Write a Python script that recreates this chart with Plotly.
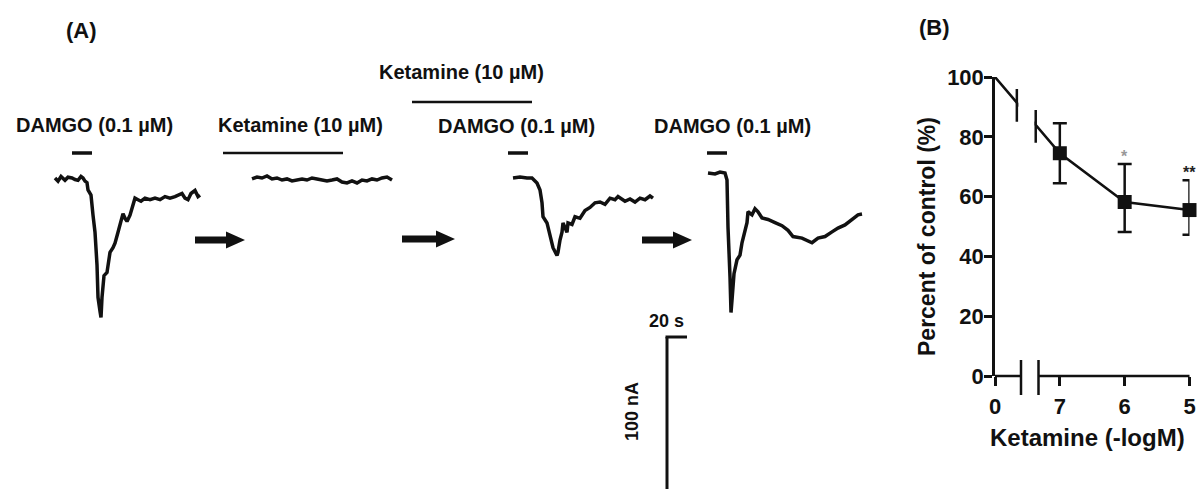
import plotly.graph_objects as go

# ---------------- Panel A data: whole-cell currents (time in s, current in nA, relative to baseline)
t_damgo_ctrl = [0, 3, 6, 10, 13, 17, 20, 23, 26, 28, 30, 32, 33, 36, 38, 40, 42, 43, 45, 46, 47, 49, 52, 55, 58,
                60, 63, 65, 68, 70, 72, 75, 78, 80, 83, 86, 90, 95, 100, 105, 110, 115, 120, 124, 127, 130, 133,
                136, 140, 143, 145]
i_damgo_ctrl = [0, -2, 1, -1.5, 0.5, 0, -1, -1.5, 1, 0, -2, -3, -7.7, -11, -24, -35, -56, -77, -86, -90, -77, -63,
                -61, -48, -45, -42, -35, -30, -23, -26, -28, -24, -16, -13, -14, -15, -13, -14, -13, -14, -12, -13,
                -12, -11, -10, -13, -14, -10, -8, -12, -11]

t_ketamine = [0, 5, 10, 15, 20, 25, 30, 35, 40, 45, 50, 55, 60, 65, 70, 75, 80, 85, 90, 95, 100, 105, 110, 115,
              120, 125, 130, 135, 140]
i_ketamine = [-0.6, 0.6, 0, 1.3, -0.6, 0, -1.3, -0.6, -1.9, -1.3, -0.6, -1.3, 0, -0.6, -1.3, -1.9, -1.3, -0.6,
              -2.6, -3.2, -1.9, -3.2, -1.3, -1.9, -0.6, -1.3, 0, 0.6, -1.3]

t_damgo_ket = [0, 7, 14, 19, 24, 27, 29, 30, 34, 37, 40, 44, 45, 47, 49, 50, 54, 55, 59, 62, 67, 72, 77, 82, 87,
               92, 97, 102, 105, 112, 117, 122, 127, 132, 137, 140]
i_damgo_ket = [0, 0.6, 0, 0, -3.2, -7.7, -16, -25, -29, -38, -45, -50, -48, -40, -35, -29, -35, -29, -30, -25,
               -26, -21, -19, -16, -15.5, -17, -13, -14, -12, -15, -13.5, -15.5, -13, -14, -11.6, -13]

t_damgo_wash = [0, 7, 12, 17, 19, 20, 22, 23, 24, 26, 29, 32, 34, 37, 39, 40, 44, 47, 50, 54, 60, 67, 74, 80, 85,
                94, 104, 110, 117, 124, 130, 137, 144, 150, 154]
i_damgo_wash = [0, -0.6, 0.6, 0, -4.5, -35, -67, -90, -82, -65, -56, -53, -45, -37, -32, -25, -27, -23, -25, -29,
                -30, -32, -34, -37, -41, -42, -45, -42, -41, -38, -35.5, -33.5, -30, -27, -26.5]

# drug application intervals (s, relative to start of each trace)
damgo_app = [(17, 37), (-5, 15), (-1, 19)]
ketamine_app = [(-29, 91), (-101, 19)]

# ---------------- Panel B data
ketamine_neglogM = [8, 7, 6, 5]          # 8 stands for control (labelled "0")
tick_labels = ["0", "7", "6", "5"]
pct_control = [100, 74.5, 58.2, 55.5]
err_plus = [10, 12.7, 10]
err_minus = [10, 10, 8.3]
sig_labels = ["", "*", "**"]
y_ticks = [0, 20, 40, 60, 80, 100]

# ---------------- layout constants
W, H = 1200, 489
PX_PER_S = 1.0
PX_PER_NA = 1.55
FONT = "Liberation Sans, Arial, Helvetica, sans-serif"
BLK = "#111111"

# panel B plot-area pixel geometry
BX0, BX1 = 995, 1189.5
BY0, BY1 = 376, 77   # pixel y of 0 % and 100 %

# trace placement (left x px, baseline y px)
placements = [(55, 178), (252, 178), (513, 178), (708, 173)]
traces_A = [(t_damgo_ctrl, i_damgo_ctrl), (t_ketamine, i_ketamine),
            (t_damgo_ket, i_damgo_ket), (t_damgo_wash, i_damgo_wash)]

fig = go.Figure()

for (x0, yb), (tt, ii) in zip(placements, traces_A):
    fig.add_trace(go.Scatter(
        x=[x0 + t * PX_PER_S for t in tt],
        y=[yb - v * PX_PER_NA for v in ii],
        mode="lines", line=dict(color=BLK, width=3.5),
        xaxis="x", yaxis="y", showlegend=False, hoverinfo="skip"))

shapes = []
annotations = []

# drug application bars
damgo_traces = [0, 2, 3]
for k, (a, b) in zip(damgo_traces, damgo_app):
    x0, _ = placements[k]
    shapes.append(dict(type="line", xref="x", yref="y", x0=x0 + a * PX_PER_S, x1=x0 + b * PX_PER_S,
                       y0=153, y1=153, line=dict(color=BLK, width=3.5)))
ket_rows = [(1, 153), (2, 102)]
for (k, yy), (a, b) in zip(ket_rows, ketamine_app):
    x0, _ = placements[k]
    shapes.append(dict(type="line", xref="x", yref="y", x0=x0 + a * PX_PER_S, x1=x0 + b * PX_PER_S,
                       y0=yy, y1=yy, line=dict(color=BLK, width=2.5)))

# arrows between traces
def arrow(xs, xe, y, head=19, hh=8.5, sh=3.5):
    xh = xe - head
    return dict(type="path", xref="x", yref="y",
                path=f"M{xs},{y-sh} L{xh},{y-sh} L{xh},{y-hh} L{xe},{y} L{xh},{y+hh} L{xh},{y+sh} L{xs},{y+sh} Z",
                fillcolor=BLK, line=dict(color=BLK, width=0))

shapes += [arrow(195, 245, 240), arrow(402, 455, 239), arrow(642, 692, 240)]

# scale bars
sb_x, sb_y = 667, 337
shapes.append(dict(type="line", xref="x", yref="y", x0=sb_x - 1.5, x1=sb_x + 20 * PX_PER_S, y0=sb_y, y1=sb_y,
                   line=dict(color=BLK, width=3)))
shapes.append(dict(type="line", xref="x", yref="y", x0=sb_x, x1=sb_x, y0=sb_y, y1=sb_y + 100 * PX_PER_NA,
                   line=dict(color=BLK, width=3)))

def txt(x, y, s, size=20, **kw):
    d = dict(x=x, y=y, xref="x", yref="y", text=s, showarrow=False,
             font=dict(family=FONT, size=size, color=BLK, weight="bold"),
             xanchor="center", yanchor="middle")
    d.update(kw)
    return d

annotations += [
    txt(81, 30, "(A)", size=22),
    txt(94, 125, "DAMGO (0.1 µM)"),
    txt(300, 125, "Ketamine (10 µM)"),
    txt(461, 72, "Ketamine (10 µM)"),
    txt(516, 126, "DAMGO (0.1 µM)"),
    txt(732, 126, "DAMGO (0.1 µM)"),
    txt(666, 321, "20 s", size=18),
    txt(632, 412, "100 nA", size=18, textangle=-90),
    txt(934, 27, "(B)", size=22),
    # panel B axis titles
    txt(927, 237, "Percent of control (%)", size=23, textangle=-90),
    txt(1087, 437, "Ketamine (-logM)", size=24),
]

# ---------------- Panel B
fig.add_trace(go.Scatter(
    x=ketamine_neglogM, y=pct_control, mode="lines",
    line=dict(color=BLK, width=2.5), xaxis="x2", yaxis="y2",
    showlegend=False, hoverinfo="skip", cliponaxis=False))
fig.add_trace(go.Scatter(
    x=ketamine_neglogM[1:], y=pct_control[1:], mode="markers",
    marker=dict(symbol="square", size=14, color=BLK),
    error_y=dict(type="data", array=err_plus, arrayminus=err_minus, color=BLK, thickness=2.5, width=7),
    xaxis="x2", yaxis="y2", showlegend=False, hoverinfo="skip", cliponaxis=False))

# axis break on the data line: cover the gap, then draw the two break bars
shapes.append(dict(type="rect", xref="x2", yref="y2", x0=7.64, x1=7.39, y0=80, y1=95,
                   fillcolor="white", line=dict(width=0), layer="above"))
shapes.append(dict(type="line", xref="x2", yref="y2", x0=7.663, x1=7.663, y0=96, y1=85,
                   line=dict(color=BLK, width=2.5), layer="above"))
shapes.append(dict(type="line", xref="x2", yref="y2", x0=7.372, x1=7.372, y0=89, y1=78,
                   line=dict(color=BLK, width=2.5), layer="above"))

# broken x axis (drawn in full-figure pixel space so it is not clipped)
brk_a, brk_b = 1021, 1038.5
for xa, xb in [(BX0, brk_a), (brk_b, BX1)]:
    shapes.append(dict(type="line", xref="x", yref="y", x0=xa, x1=xb, y0=BY0, y1=BY0,
                       line=dict(color=BLK, width=2.5), layer="above"))
for xb in (brk_a, brk_b):
    shapes.append(dict(type="line", xref="x", yref="y", x0=xb, x1=xb, y0=BY0 - 16, y1=BY0 + 19,
                       line=dict(color=BLK, width=2.5), layer="above"))

star_colors = ["#999999", "#222222"]
for xv, yv, ep, s, c in zip(ketamine_neglogM[2:], pct_control[2:], err_plus[1:], sig_labels[1:], star_colors):
    annotations.append(dict(x=xv, y=yv + ep, xref="x2", yref="y2", text=s, showarrow=False,
                            font=dict(family=FONT, size=16, color=c, weight="bold"),
                            xanchor="center", yanchor="bottom", yshift=-3))

fig.update_layout(
    width=W, height=H, margin=dict(l=0, r=0, t=0, b=0, autoexpand=False),
    paper_bgcolor="white", plot_bgcolor="white",
    xaxis=dict(domain=[0, 1], range=[0, W], visible=False, fixedrange=True, automargin=False),
    yaxis=dict(domain=[0, 1], range=[H, 0], visible=False, fixedrange=True, automargin=False),
    xaxis2=dict(domain=[BX0 / W, BX1 / W], anchor="y2", range=[8, 5], tickvals=ketamine_neglogM,
                ticktext=tick_labels, ticks="outside", ticklen=9, tickwidth=2.5, tickcolor=BLK,
                showline=False, showgrid=False, zeroline=False, ticklabelstandoff=2, automargin=False,
                tickfont=dict(family=FONT, size=22, color=BLK, weight="bold")),
    yaxis2=dict(domain=[(H - BY0) / H, (H - BY1) / H], anchor="x2", range=[0, 100],
                tickvals=y_ticks, ticks="outside", ticklen=8, tickwidth=2.5, tickcolor=BLK,
                showline=True, linewidth=2.5, linecolor=BLK, showgrid=False, zeroline=False,
                automargin=False, ticklabelstandoff=-4,
                tickfont=dict(family=FONT, size=22, color=BLK, weight="bold")),
    shapes=shapes, annotations=annotations,
)

fig.write_html("out.html")
